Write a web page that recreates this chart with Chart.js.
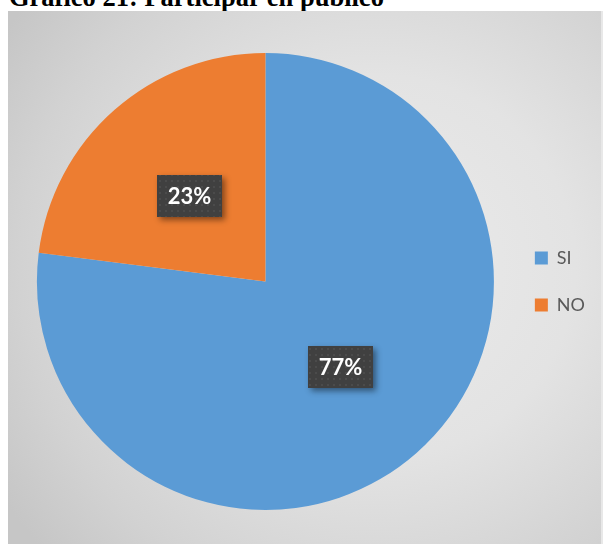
<!DOCTYPE html>
<html>
<head>
<meta charset="utf-8">
<script src="https://cdn.jsdelivr.net/npm/chart.js@4"></script>
<style>
  html, body { margin:0; padding:0; background:#ffffff; width:605px; height:544px; overflow:hidden; }
  #title { position:absolute; left:9px; top:-16px; font-family:"Liberation Serif","Times New Roman",serif; font-weight:bold; font-size:26.5px; color:#000; white-space:nowrap; line-height:26.5px; }
  #box { position:absolute; left:8px; top:11px; width:595px; height:533px;
    background: radial-gradient(ellipse 75% 80% at 62% 48%, #ebebeb 0%, #e3e3e3 45%, #d2d2d2 80%, #c6c6c6 100%);
    border-right:2px solid #e8e8e8; box-sizing:border-box; }
  #chart { display:block; }
</style>
</head>
<body>
<div id="title">Gráfico 21: Participar en público</div>
<div id="box"><canvas id="chart" width="593" height="533"></canvas></div>
<script>
const categories = ["SI", "NO"];
const values = [77, 23];
const labelsText = ["77%", "23%"];
const colors = ["#5B9BD5", "#ED7D31"];

function makePattern(ctx) {
  const c = document.createElement('canvas');
  c.width = 6; c.height = 6;
  const p = c.getContext('2d');
  p.fillStyle = '#404040'; p.fillRect(0,0,6,6);
  p.fillStyle = '#4b4b4b'; p.fillRect(1,1,2,2);
  return ctx.createPattern(c, 'repeat');
}

const labelPlugin = {
  id: 'boxLabels',
  afterDatasetsDraw(chart) {
    const ctx = chart.ctx;
    const meta = chart.getDatasetMeta(0);
    const pat = makePattern(ctx);
    meta.data.forEach((arc, i) => {
      const pos = arc.getCenterPoint();
      const w = 65, h = 42;
      const x = Math.round(pos.x - w/2), y = Math.round(pos.y - h/2);
      ctx.save();
      ctx.shadowColor = 'rgba(0,0,0,0.45)';
      ctx.shadowBlur = 6;
      ctx.shadowOffsetX = 3;
      ctx.shadowOffsetY = 3;
      ctx.fillStyle = '#404040';
      ctx.fillRect(x, y, w, h);
      ctx.restore();
      ctx.save();
      ctx.fillStyle = pat;
      ctx.fillRect(x, y, w, h);
      ctx.fillStyle = '#ffffff';
      ctx.font = 'bold 22px Lato, "Open Sans", sans-serif';
      ctx.textAlign = 'center';
      ctx.textBaseline = 'middle';
      ctx.fillText(labelsText[i], x + w/2, y + h/2 + 1);
      ctx.restore();
    });
  }
};

new Chart(document.getElementById('chart'), {
  type: 'pie',
  data: {
    labels: categories,
    datasets: [{ data: values, backgroundColor: colors, borderWidth: 0 }]
  },
  options: {
    responsive: false,
    animation: false,
    layout: { padding: { left: 17, top: 42, bottom: 34, right: 6 } },
    plugins: {
      legend: {
        position: 'right',
        labels: {
          boxWidth: 13, boxHeight: 13, padding: 29,
          color: '#595959',
          font: { family: 'Lato, "Open Sans", sans-serif', size: 18 }
        }
      },
      tooltip: { enabled: false },
      title: { display: false }
    }
  },
  plugins: [labelPlugin]
});
</script>
</body>
</html>
